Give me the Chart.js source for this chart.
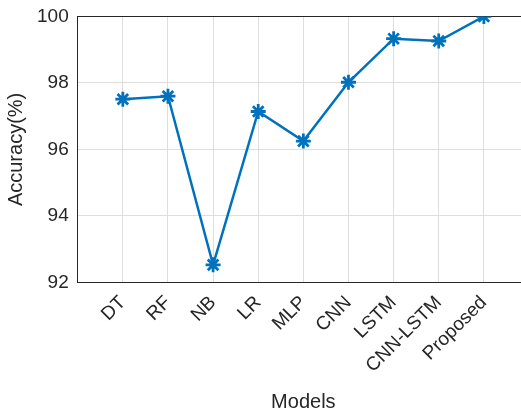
<!DOCTYPE html>
<html>
<head>
<meta charset="utf-8">
<script src="https://cdn.jsdelivr.net/npm/chart.js@4"></script>
<style>
  html, body { margin: 0; padding: 0; background: #fff; overflow: hidden; }
  #wrap { width: 521px; height: 411px; overflow: hidden; }
  #myChart { display: block; margin-top: -4px; }
</style>
</head>
<body>
<div id="wrap"><canvas id="myChart" width="540" height="420"></canvas></div>
<script>
// models on the x axis, accuracy in percent
var models = ['DT', 'RF', 'NB', 'LR', 'MLP', 'CNN', 'LSTM', 'CNN-LSTM', 'Proposed'];
var accuracy = [97.51, 97.60, 92.53, 97.14, 96.25, 98.02, 99.33, 99.26, 100.0];
var yTicks = [92, 94, 96, 98, 100];

var ink = '#262626';
var blue = '#0072BD';

var points = [];
for (var i = 0; i < models.length; i++) {
    points.push({ x: i + 1, y: accuracy[i] });
}

// the plot box runs past the right edge of the picture, so the canvas is wider than the window
var ctx = document.getElementById('myChart').getContext('2d');
var chart = new Chart(ctx, {
    type: 'line',
    data: {
        datasets: [{
            label: 'Accuracy',
            data: points,
            borderColor: blue,
            backgroundColor: blue,
            borderWidth: 2.5,
            pointStyle: 'star',
            pointRadius: 7.5,
            pointBorderWidth: 2.8,
            pointBorderColor: blue,
            tension: 0
        }]
    },
    options: {
        responsive: false,
        animation: false,
        layout: { autoPadding: false, padding: { top: 4, right: 11, left: 0, bottom: 0 } },
        plugins: { legend: { display: false }, tooltip: { enabled: false } },
        scales: {
            x: {
                type: 'linear',
                min: 0,
                max: 10,
                afterBuildTicks: function (axis) {
                    axis.ticks = models.map(function (m, i) { return { value: i + 1 }; });
                },
                ticks: {
                    autoSkip: false,
                    minRotation: 45,
                    maxRotation: 45,
                    color: ink,
                    font: { family: 'Liberation Sans', size: 19 },
                    padding: 9,
                    callback: function (value) { return models[value - 1]; }
                },
                grid: { color: '#dedede', lineWidth: 1, drawTicks: false },
                border: { color: ink, width: 1 },
                title: {
                    display: true,
                    text: 'Models',
                    color: ink,
                    font: { family: 'Liberation Sans', size: 20 },
                    padding: { top: 4, bottom: 2 }
                }
            },
            y: {
                min: 92,
                max: 100,
                afterBuildTicks: function (axis) {
                    axis.ticks = yTicks.map(function (v) { return { value: v }; });
                },
                ticks: {
                    color: ink,
                    font: { family: 'Liberation Sans', size: 19 },
                    padding: 9
                },
                grid: {
                    color: function (c) { return c.tick && c.tick.value === 100 ? ink : '#dedede'; },
                    lineWidth: 1,
                    drawTicks: false
                },
                border: { color: ink, width: 1 },
                title: {
                    display: true,
                    text: 'Accuracy(%)',
                    color: ink,
                    font: { family: 'Liberation Sans', size: 20 },
                    padding: { top: 4, bottom: 0 }
                }
            }
        }
    }
});
</script>
</body>
</html>
